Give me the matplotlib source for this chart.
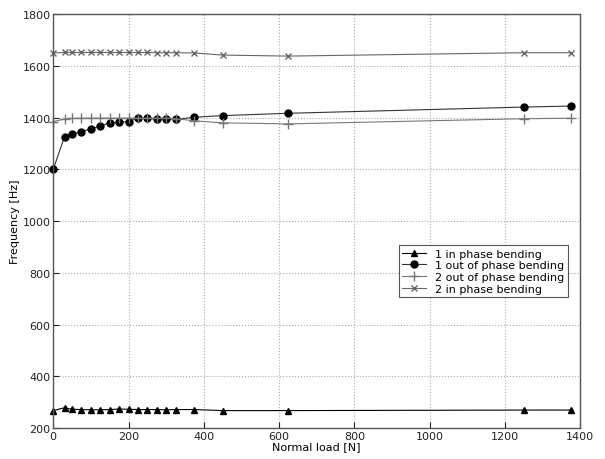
import matplotlib.pyplot as plt

# Normal load [N]
load = [0, 30, 50, 75, 100, 125, 150, 175, 200, 225, 250, 275, 300, 325,
        375, 450, 625, 1250, 1375]

# Frequencies [Hz]
in_phase_1 = [268, 279, 273, 272, 271, 271, 272, 274, 273, 272, 272, 272,
              271, 272, 272, 268, 268, 270, 270]
out_phase_1 = [1200, 1327, 1336, 1346, 1357, 1368, 1380, 1382, 1385, 1398,
               1397, 1394, 1394, 1393, 1402, 1408, 1417, 1441, 1445]
out_phase_2 = [1385, 1395, 1397, 1398, 1398, 1398, 1398, 1398, 1398, 1398,
               1398, 1398, 1398, 1396, 1388, 1380, 1376, 1396, 1398]
in_phase_2 = [1650, 1652, 1652, 1652, 1652, 1652, 1652, 1652, 1652, 1652,
              1652, 1651, 1651, 1651, 1650, 1642, 1638, 1651, 1651]

fig = plt.figure(figsize=(6.05, 4.6), dpi=100)
ax = fig.add_axes([0.088, 0.067, 0.871, 0.900])

ax.plot(load, in_phase_1, color='black', lw=0.8, marker='^', ms=5,
        clip_on=False, label='1 in phase bending')
ax.plot(load, out_phase_1, color='#333333', lw=0.8, marker='o', ms=5,
        mfc='black', mec='black', clip_on=False,
        label='1 out of phase bending')
ax.plot(load, out_phase_2, color='#777777', lw=0.8, marker='+', ms=7,
        clip_on=False, label='2 out of phase bending')
ax.plot(load, in_phase_2, color='#666666', lw=0.8, marker='x', ms=5,
        clip_on=False, label='2 in phase bending')

ax.set_xlim(0, 1400)
ax.set_ylim(200, 1800)
ax.set_xticks(range(0, 1401, 200))
ax.set_yticks(range(200, 1801, 200))
ax.grid(True, linestyle=':', color='#aaaaaa', lw=0.8)
ax.tick_params(direction='in', labelsize=8, length=4, pad=2,
               colors='#222222')
for s in ax.spines.values():
    s.set_color('#555555')
    s.set_linewidth(1.0)

ax.set_xlabel('Normal load [N]', fontsize=8, labelpad=0)
ax.set_ylabel('Frequency [Hz]', fontsize=8, labelpad=2)

leg = ax.legend(loc='upper left', bbox_to_anchor=(0.645, 0.455), fontsize=8,
                fancybox=False, edgecolor='#555555', framealpha=1,
                borderpad=0.3, labelspacing=0.15, handlelength=2.2)
leg.get_frame().set_linewidth(0.8)

fig.savefig('out.png', dpi=100)
